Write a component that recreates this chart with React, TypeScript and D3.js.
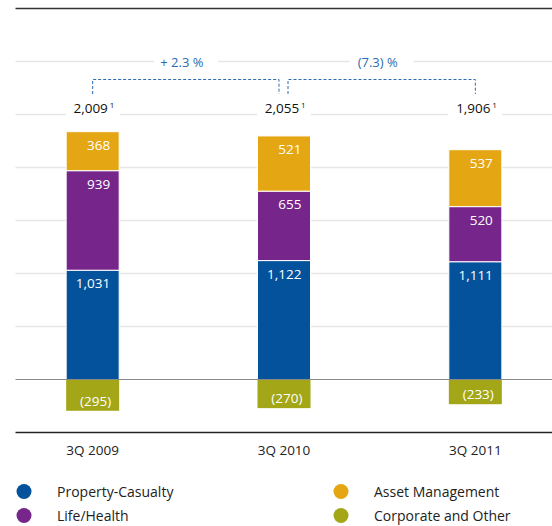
import React from "react";
import * as d3 from "d3";

const quarters = ["3Q 2009", "3Q 2010", "3Q 2011"];
const propertyCasualty = [1031, 1122, 1111];
const lifeHealth = [939, 655, 520];
const assetManagement = [368, 521, 537];
const corporateOther = [-295, -270, -233];
const totals = ["2,009", "2,055", "1,906"];
const changes = ["+ 2.3 %", "(7.3) %"];
const gridTicks = [500, 1000, 1500, 2000, 2500, 3000];

const colors = {
  pc: "#04529b",
  lh: "#76268a",
  am: "#e5a614",
  co: "#a2a617",
};

const FONT = "'Open Sans', 'Noto Sans', sans-serif";

export default function App() {
  const width = 552;
  const height = 526;

  const x = d3.scaleBand<string>().domain(quarters).range([-3, 571]).paddingInner(0.723).paddingOuter(0.3615);
  const y = d3.scaleLinear().domain([-500, 3500]).range([432.5, 8.5]);
  const bw = x.bandwidth();
  const left = 15.5;

  const fmt = d3.format(",");

  // stacked positive segments, bottom to top
  const stacks = quarters.map((q, i) => {
    const segs = [
      { key: "pc", v: propertyCasualty[i] },
      { key: "lh", v: lifeHealth[i] },
      { key: "am", v: assetManagement[i] },
    ];
    let base = 0;
    return segs.map((s) => {
      const seg = { ...s, y0: base, y1: base + s.v };
      base += s.v;
      return seg;
    });
  });

  const cx = (q: string) => (x(q) as number) + bw / 2;
  const totalY = 113;
  const bracketTop = 79.5;
  const bracketBottom = 94;
  const brackets = [
    { x0: cx(quarters[0]), x1: cx(quarters[1]) - 5 },
    { x0: cx(quarters[1]) + 4, x1: cx(quarters[2]) },
  ];

  const legend = [
    { label: "Property-Casualty", color: colors.pc, col: 0, row: 0 },
    { label: "Life/Health", color: colors.lh, col: 0, row: 1 },
    { label: "Asset Management", color: colors.am, col: 1, row: 0 },
    { label: "Corporate and Other", color: colors.co, col: 1, row: 1 },
  ];

  return (
    <svg
      width={width}
      height={height}
      style={{ position: "absolute", left: 0, top: 0, background: "#fff" }}
      fontFamily={FONT}
    >
      {/* frame lines */}
      <line x1={left} x2={width} y1={y(3500)} y2={y(3500)} stroke="#333" strokeWidth={1.5} />
      <line x1={left} x2={width} y1={y(-500)} y2={y(-500)} stroke="#222" strokeWidth={1.5} />
      {gridTicks.map((t) => (
        <line key={t} x1={left} x2={width} y1={y(t)} y2={y(t)} stroke="#e6e6e6" strokeWidth={1.5} />
      ))}

      {/* bars */}
      {quarters.map((q, i) => (
        <g key={q}>
          {stacks[i].map((s) => (
            <rect
              key={s.key}
              x={x(q)}
              y={y(s.y1)}
              width={bw}
              height={y(s.y0) - y(s.y1)}
              fill={colors[s.key as keyof typeof colors]}
              stroke="#fff"
              strokeWidth={1}
            />
          ))}
          <rect
            x={x(q)}
            y={y(0)}
            width={bw}
            height={y(corporateOther[i]) - y(0)}
            fill={colors.co}
          />
          {stacks[i].map((s) => (
            <text
              key={s.key + "l"}
              x={(x(q) as number) + bw - 9}
              y={y(s.y1) + 18}
              textAnchor="end"
              fill="#fff"
              fontSize={13.5}
            >
              {fmt(s.v)}
            </text>
          ))}
          <text
            x={(x(q) as number) + bw - 8}
            y={y(corporateOther[i]) - 5}
            textAnchor="end"
            fill="#fff"
            fontSize={13.5}
          >
            ({fmt(-corporateOther[i])})
          </text>
          {/* total label */}
          <rect x={cx(q) - 27} y={totalY - 14} width={54} height={20} fill="#fff" />
          <text x={cx(q) - 2} y={totalY} textAnchor="middle" fill="#111" fontSize={13.5}>
            {totals[i]}
          </text>
          <text x={cx(q) + 17} y={totalY - 5} fill="#111" fontSize={8}>
            1
          </text>
          <text x={cx(q)} y={455} textAnchor="middle" fill="#222" fontSize={13.5}>
            {q}
          </text>
        </g>
      ))}

      <line x1={left} x2={width} y1={y(0)} y2={y(0)} stroke="#8a8a8a" strokeWidth={1} />

      {/* change brackets */}
      {brackets.map((b, i) => (
        <g key={i}>
          <path
            d={`M${b.x0},${bracketBottom}V${bracketTop}H${b.x1}V${bracketBottom}`}
            fill="none"
            stroke="#2a6db0"
            strokeWidth={1}
            strokeDasharray="3,2"
          />
          <rect x={(b.x0 + b.x1) / 2 - 32} y={y(3000) - 6} width={64} height={12} fill="#fff" />
          <text
            x={(b.x0 + b.x1) / 2 - 4}
            y={y(3000) + 5}
            textAnchor="middle"
            fill="#2a6db0"
            fontSize={13}
          >
            {changes[i]}
          </text>
        </g>
      ))}

      {/* legend */}
      {legend.map((l) => (
        <g key={l.label} transform={`translate(${l.col === 0 ? 24 : 341},${l.row === 0 ? 491.5 : 515.5})`}>
          <circle r={7.5} fill={l.color} />
          <text x={33} y={5} fill="#222" fontSize={14}>
            {l.label}
          </text>
        </g>
      ))}
    </svg>
  );
}
